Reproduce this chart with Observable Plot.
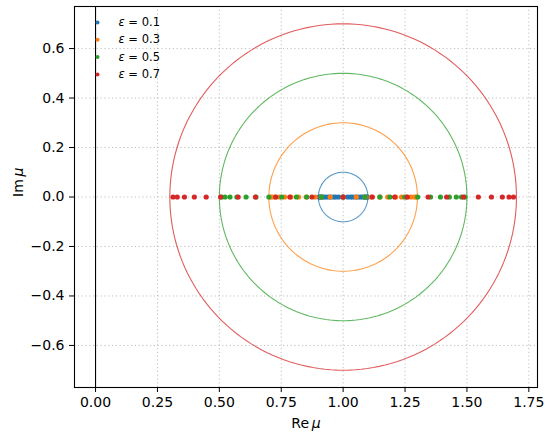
<!DOCTYPE html>
<html><head><meta charset="utf-8">
<script src="https://cdn.jsdelivr.net/npm/d3@7"></script>
<script src="https://cdn.jsdelivr.net/npm/@observablehq/plot@0.6"></script>
<style>body{margin:0;background:#fff;} svg{font-family:"DejaVu Sans";}</style>
</head><body><div id="chart"></div>
<script>
const epsilons = [0.1, 0.3, 0.5, 0.7];
const colors = ["#1f77b4", "#ff7f0e", "#2ca02c", "#d62728"];
const re01 = [0.902,0.905,0.909,0.914,0.921,0.930,0.940,0.950,0.962,0.970,0.982,1.000,1.018,1.030,1.038,1.050,1.060,1.070,1.079,1.086,1.091,1.096,1.098];
const re03 = [0.705,0.714,0.726,0.743,0.764,0.789,0.820,0.851,0.887,0.912,0.948,1.000,1.053,1.089,1.113,1.149,1.180,1.212,1.236,1.257,1.274,1.287,1.295];
const re05 = [0.509,0.523,0.543,0.571,0.608,0.648,0.700,0.752,0.811,0.853,0.913,1.000,1.088,1.148,1.189,1.249,1.301,1.353,1.393,1.429,1.457,1.478,1.492];
const re07 = [0.313,0.330,0.359,0.399,0.447,0.505,0.576,0.646,0.728,0.785,0.874,1.000,1.118,1.208,1.259,1.343,1.418,1.486,1.546,1.599,1.643,1.670,1.688];
const xTicks = [0, 0.25, 0.5, 0.75, 1.0, 1.25, 1.5, 1.75];
const yTicks = [-0.6, -0.4, -0.2, 0, 0.2, 0.4, 0.6];
const circleCenter = 1.0;

const points = [re01, re03, re05, re07].flatMap((arr, i) => arr.map(x => ({x, y: 0, eps: epsilons[i]})));
const angles = d3.range(0, 361, 2);
const circles = epsilons.flatMap(r => angles.map(a => ({
  x: circleCenter + r * Math.cos(a * Math.PI / 180),
  y: r * Math.sin(a * Math.PI / 180),
  eps: r
})));

const gridStyle = {stroke: "#b0b0b0", strokeOpacity: 0.8, strokeDasharray: "1.2,2.6", strokeWidth: 1};

const legendMarks = epsilons.flatMap((e, i) => [
  Plot.dot([e], {frameAnchor: "top-left", dx: 23, dy: 16 + 17.3 * i, fill: d => d, r: 2}),
  Plot.text([e], {frameAnchor: "top-left", dx: 44, dy: 16 + 17.3 * i, text: d => `ε = ${d}`, textAnchor: "start", lineAnchor: "middle", fontSize: 11.5, fill: "black"})
]);

const chart = Plot.plot({
  width: 550, height: 438,
  marginLeft: 74, marginRight: 13, marginTop: 6, marginBottom: 51,
  style: {fontFamily: "DejaVu Sans", fontSize: "14px", background: "white", color: "black"},
  x: {domain: [-0.085, 1.785], ticks: xTicks, tickFormat: d3.format(".2f"), label: null},
  y: {domain: [-0.77, 0.77], ticks: yTicks, tickFormat: d3.format(".1f"), label: null},
  color: {domain: epsilons, range: colors},
  marks: [
    Plot.gridX(xTicks, gridStyle),
    Plot.gridY(yTicks, gridStyle),
    Plot.ruleX([0], {stroke: "black", strokeWidth: 1.1}),
    Plot.line(circles, {x: "x", y: "y", z: "eps", stroke: "eps", strokeWidth: 1.1, strokeOpacity: 0.75}),
    Plot.dot(points, {x: "x", y: "y", fill: "eps", r: 2.6}),
    Plot.frame({stroke: "black", strokeWidth: 1.1}),
    Plot.axisX(xTicks, {tickSize: 5, tickPadding: 5, fontSize: 14, label: null, tickFormat: d3.format(".2f")}),
    Plot.axisY(yTicks, {tickSize: 5, tickPadding: 5, fontSize: 14, label: null, tickFormat: d3.format(".1f")}),
    ...legendMarks,
    Plot.text(["Re μ"], {frameAnchor: "bottom", dy: 36, text: d => d, fontSize: 14, lineAnchor: "middle", fill: "black"}),
    Plot.text(["Im μ"], {frameAnchor: "left", dx: -56, text: d => d, fontSize: 14, rotate: -90, lineAnchor: "middle", fill: "black"})
  ]
});
document.getElementById("chart").appendChild(chart);

d3.select(chart).selectAll("text").each(function() {
  const t = this.textContent;
  const sel = d3.select(this);
  if (t.startsWith("ε = ")) {
    const val = t.slice(4);
    sel.text(null);
    sel.append("tspan").attr("font-style", "italic").text("ε");
    sel.append("tspan").text(" = " + val);
  } else if (t === "Re μ" || t === "Im μ") {
    const pre = t.slice(0, 2);
    sel.text(null);
    sel.append("tspan").text(pre + "\u2009");
    sel.append("tspan").attr("font-style", "italic").text("μ");
  }
});
</script>
</body></html>
